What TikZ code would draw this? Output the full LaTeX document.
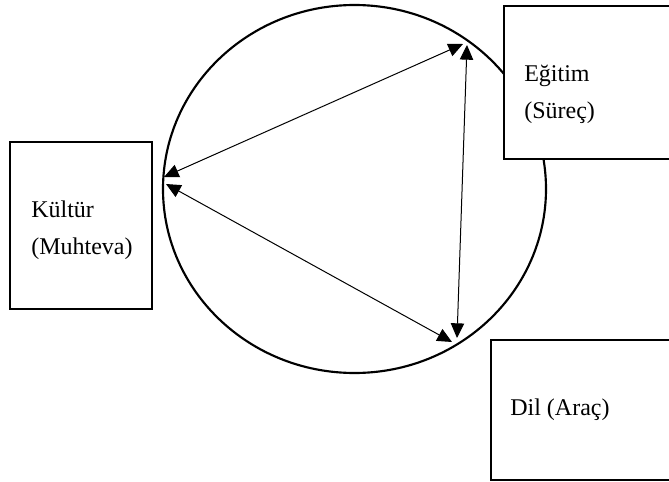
\documentclass[tikz,border=0pt]{standalone}
\usepackage{fontspec}
\setmainfont{Liberation Serif}
\usetikzlibrary{arrows.meta}
\tikzset{>={Triangle[length=11pt,width=10pt]}}
\tikzset{
  box/.style={draw, line width=1.2pt, fill=white, anchor=north west, inner sep=0pt},
  lbl/.style={anchor=base west, align=left, inner sep=0pt, font=\fontsize{18}{27.5}\selectfont}
}

\begin{document}
\begin{tikzpicture}[x=0.75pt, y=-0.75pt]
                \useasboundingbox (0,0) rectangle (669,482);
                \clip (0,0) rectangle (669,482);

                % the ring
                \draw[line width=1.6pt] (354.5,189) ellipse [x radius=191.5, y radius=184];

                % the boxes
                \node[box, minimum width=147.75pt, minimum height=114.75pt] (egitim) at (503,5) {};
                \node[box, minimum width=106.5pt, minimum height=125.25pt] (kultur) at (9,141) {};
                \node[box, minimum width=157.5pt, minimum height=105pt] (dil) at (490,339) {};

                % their texts (base is the last line)
                \node[lbl] (egitimtxt) at (524,118) {Eğitim\\(Süreç)};
                \node[lbl] (kulturtxt) at (31,254) {Kültür\\(Muhteva)};
                \node[lbl] (diltxt) at (510,415) {Dil (Araç)};

                % corners of the triangle
                \coordinate (topl) at (463,44);
                \coordinate (topr) at (467,45);
                \coordinate (leftu) at (164,177);
                \coordinate (leftd) at (166,184);
                \coordinate (botl) at (452,342);
                \coordinate (botr) at (457,338);

                % left to top
                \draw[<->, line width=0.75pt] (leftu) -- (topl);
                % left to bottom
                \draw[<->, line width=0.75pt] (leftd) -- (botl);
                % top to bottom
                \draw[<->, line width=0.75pt] (topr) -- (botr);
\end{tikzpicture}
\end{document}
